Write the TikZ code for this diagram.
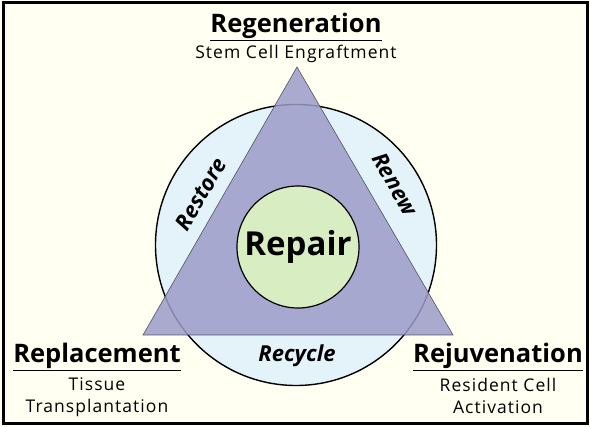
\documentclass[tikz,border=0pt]{standalone}
\usepackage{fontspec}
\setmainfont{Open Sans}
\usetikzlibrary{positioning}
\definecolor{paper}{HTML}{FFFFF2}
\definecolor{tri}{HTML}{9C9CC8}
\definecolor{ring}{HTML}{E4F3FA}
\definecolor{core}{HTML}{D9EDC2}

\begin{document}
\begin{tikzpicture}[x=1pt,y=-1pt,
 title/.style={font=\bfseries\fontsize{25.5}{27}\selectfont,inner sep=1pt},
 sub/.style={font=\fontsize{17.5}{22}\selectfont\addfontfeatures{LetterSpace=6},align=center,inner sep=0pt},
 band/.style={font=\bfseries\itshape\fontsize{22}{24}\selectfont}]

 \useasboundingbox (0,0) rectangle (590,427);
 \fill[paper] (0,0) rectangle (590,427);
 \draw[line width=3pt] (3,3) rectangle (587,424);

 \coordinate (top) at (297,67);
 \coordinate (left) at (143,335);
 \coordinate (right) at (453,335);

 \node[circle,draw,line width=1.4pt,fill=ring,minimum size=281pt] (outer) at (296,245) {};
 \fill[tri,opacity=0.85,draw=black!60!tri,line width=0.6pt] (top) -- (left) -- (right) -- cycle;
 \node[circle,draw,line width=1.2pt,fill=core,minimum size=122pt,
   font=\bfseries\fontsize{33}{35}\selectfont] (repair) at (298,247) {Repair};

 \node[band,rotate=60] (restore) at (201,194) {Restore};
 \node[band,rotate=-60] (renew) at (395,184) {Renew};
 \node[band] (recycle) at (297,356) {Recycle};

 \node[title] (regen) at (296,27) {\underline{Regeneration}};
 \node[sub] (stem) [below=3pt of regen] {Stem Cell Engraftment};
 \node[title] (replace) at (97,357) {\underline{Replacement}};
 \node[sub] (tissue) [below=6pt of replace] {Tissue\\Transplantation};
 \node[title] (rejuv) at (498,357) {\underline{Rejuvenation}};
 \node[sub] (resident) [below=6pt of rejuv] {Resident Cell\\Activation};
\end{tikzpicture}
\end{document}
